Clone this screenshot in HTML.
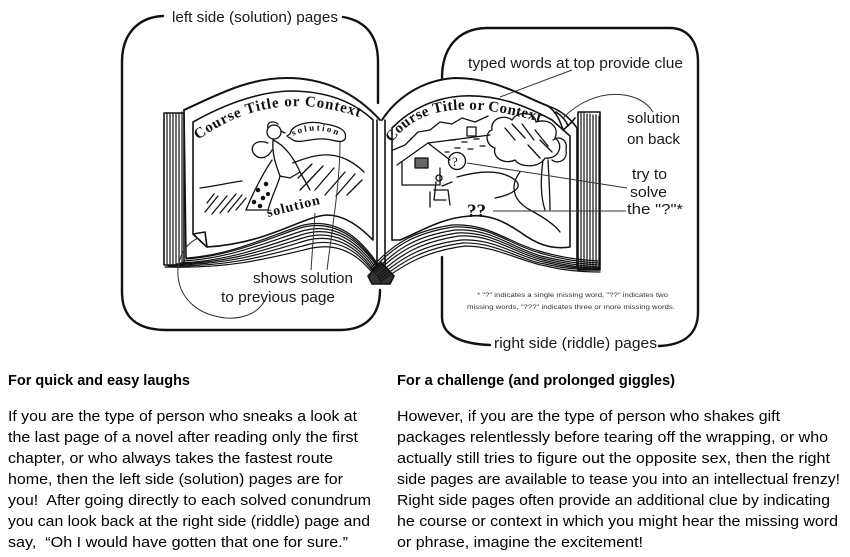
<!DOCTYPE html>
<html><head><meta charset="utf-8">
<style>
html,body{margin:0;padding:0;background:#fff;}
svg{display:block;}
.lbl{font-family:"Liberation Sans",Arial,sans-serif;font-size:15px;fill:#1a1a1a;}
.fn{font-family:"Liberation Sans",Arial,sans-serif;font-size:6.5px;fill:#333;}
.body{font-family:"Liberation Sans",sans-serif;font-size:15px;fill:#000;}
.hd{font-family:"Liberation Sans",sans-serif;font-size:15px;font-weight:bold;fill:#000;}
.hand{font-family:"Liberation Serif",serif;font-size:15px;fill:#111;}
</style></head><body>
<svg width="850" height="557" viewBox="0 0 850 557" xmlns="http://www.w3.org/2000/svg">
<defs>
<path id="lt" d="M198,140 Q272,86 362,118"/>
<path id="rt" d="M392,143 Q434,82 570,132"/>
<path id="sb" d="M293,136 Q318,124 343,138"/>
</defs>
<rect width="850" height="557" fill="#fff"/>

<!-- brackets -->
<g fill="none" stroke="#111" stroke-width="2.4" stroke-linecap="round">
<path d="M163,16 C140,17 122,32 122,62 L122,292 C122,318 138,330 166,330 L340,330 C365,330 380,316 380,290"/>
<path d="M343,17 C366,21 378,36 378,62 L378,103"/>
<path d="M442,78 C442,50 456,29 486,28 L670,28 C688,28 698,42 698,62 L698,312 C698,334 684,345 659,346"/>
<path d="M442,257 L442,318 C443,336 462,344 490,345"/>
</g>

<!-- book -->
<g fill="none" stroke="#111" stroke-width="1.6" stroke-linejoin="round" stroke-linecap="round">
<rect x="164" y="113" width="20" height="152" fill="#fff"/>
<path d="M167,114V264 M170,114V264 M173,114V264 M176,114V264 M179,113V264 M182,112V264" stroke-width="1.2"/>
<path d="M184,110 C215,96 247,78 287,78 C330,78 360,98 380,120" stroke-width="2"/>
<path d="M184,110 L186,258"/>
<path d="M193,122 C225,104 258,92 290,91 C330,91 356,104 373,120 L373,240 C360,227 345,215 327,215 C300,217 270,243 207,247 L193,234 Z"/>
<path d="M193,234 L207,247 L205,232 Z" fill="#fff"/>
<g stroke-width="1.2">
<path d="M186,258 C230,255 265,238 300,226 C335,216 360,238 377,263"/>
<path d="M186,259 C230,256 265,240 300,228 C335,218 360,240 377,265"/>
<path d="M184,261 C230,258 265,243 302,231 C337,221 362,244 378,268"/>
<path d="M180,263 C230,261 266,246 304,234 C339,224 363,248 378,271"/>
<path d="M176,264 C230,263 267,249 306,237 C341,228 364,252 378,274"/>
<path d="M172,265 C230,265 268,252 308,240 C343,232 365,256 378,277"/>
<path d="M168,266 C230,267 269,255 310,244 C345,236 366,260 379,280"/>
<path d="M165,267 C230,269 270,258 312,248 C347,241 367,264 380,283"/>
</g>
<path d="M377,120 V272 M385,120 V272"/>
<path d="M368,276 L372,284 L390,284 L394,276 L381,262 Z" fill="#333"/>
<path d="M382,120 C395,100 420,80 455,78 C495,78 520,95 548,106" stroke-width="2"/>
<path d="M548,106 C560,110 570,118 577,128 L577,266"/>
<path d="M548,106 C556,112 560,120 563,130 C568,126 572,122 575,118 M556,112 C562,116 566,120 568,126"/>
<path d="M392,128 C410,110 432,98 462,96 C500,94 530,108 552,120 L570,136 L570,247 C550,250 535,243 520,232 C505,222 490,214 470,216 C440,218 420,232 400,240 L392,240 Z"/>
<rect x="578" y="112" width="22" height="158" fill="#fff"/>
<path d="M581,113V269 M584,113V269 M587,114V269 M590,114V269 M593,115V269 M596,115V269 M599,116V269" stroke-width="1.2"/>
<g stroke-width="1.2">
<path d="M371,268 C394,243 414,231 452,225 C489,223 509,243 539,251 C559,257 579,260 598,261"/>
<path d="M372,270 C395,245 415,233 453,227 C490,225 510,245 540,253 C560,259 580,262 598,263"/>
<path d="M374,272 C397,248 417,236 455,230 C491,228 512,248 541,256 C561,261 581,264 598,265"/>
<path d="M375,274 C398,251 419,239 457,233 C492,231 514,251 542,258 C562,263 582,266 598,267"/>
<path d="M377,276 C400,254 421,242 459,236 C493,234 516,254 543,260 C563,265 583,268 599,268"/>
<path d="M378,278 C402,257 423,245 461,240 C494,238 518,257 544,262 C564,267 584,269 599,269"/>
<path d="M379,280 C404,260 425,248 463,243 C495,242 520,260 545,264 C565,269 585,270 600,270"/>
<path d="M380,282 C406,263 427,251 465,246 C496,246 522,262 546,266 C566,271 586,272 600,272"/>
</g>
</g>

<!-- left page interior -->
<g fill="none" stroke="#111" stroke-width="1.3" stroke-linecap="round">
<path d="M200,188 C215,186 228,183 242,181"/>
<path d="M293,163 C305,158 318,154 330,155 C343,156 355,163 364,172"/>
<path d="M205,212 L218,196 M212,214 L227,196 M220,213 L236,194 M228,212 L242,195 M236,210 L246,198 M207,203 L214,194"/>
<path d="M298,178 L312,164 M306,184 L323,166 M315,190 L334,168 M325,195 L345,172 M336,196 L355,174 M347,195 L362,180 M300,190 L310,180"/>
<circle cx="274" cy="132" r="7"/>
<path d="M268,128 C266,122 274,120 278,124 M281,131 L285,133"/>
<path d="M268,143 C255,138 248,148 255,155 C260,160 268,158 272,150"/>
<path d="M273,140 C285,145 295,160 300,172 L290,178 L280,176 C276,165 272,155 273,140 Z"/>
<path d="M300,172 L310,190"/>
<path d="M272,160 C262,175 252,195 246,210 L268,210 C272,195 278,185 280,176"/>
<circle cx="258" cy="190" r="1.6" fill="#111"/><circle cx="263" cy="198" r="1.6" fill="#111"/><circle cx="254" cy="202" r="1.6" fill="#111"/><circle cx="266" cy="184" r="1.6" fill="#111"/><circle cx="260" cy="206" r="1.6" fill="#111"/><circle cx="268" cy="194" r="1.4" fill="#111"/>
<path d="M290,134 C292,124 310,120 325,124 C338,126 348,130 345,139 C342,144 335,140 325,139 C310,138 300,144 293,140 L287,136 Z"/>
</g>
<text class="hand" style="font-size:9px;font-weight:bold"><textPath href="#sb" textLength="46">solution</textPath></text>
<text class="hand" style="font-size:15px;font-weight:bold"><textPath href="#lt" textLength="170">Course Title or Context</textPath></text>
<text class="hand" x="268" y="217" transform="rotate(-14 268 217)" style="font-size:14px;font-weight:bold" textLength="54">solution</text>

<!-- right page interior -->
<g fill="none" stroke="#111" stroke-width="1.3" stroke-linecap="round" stroke-linejoin="round">
<path d="M393,150 L405,145 L418,132 L430,130 L440,122 L452,124 L462,118 L475,122 L488,116"/>
<path d="M397,165 L428,143 L450,160"/>
<path d="M402,162 V185 L440,185 V168"/>
<rect x="415" y="158" width="13" height="10" fill="#666"/>
<path d="M428,143 L490,135"/>
<rect x="467" y="127" width="9" height="9"/>
<path d="M450,140 h5 M462,142 h5 M474,139 h5 M455,148 h5 M468,149 h5 M480,146 h5 M445,152 h4"/>
<circle cx="457" cy="161" r="8.5"/>
<text x="452" y="166" style="font-family:'Liberation Serif',serif;font-size:13px;stroke:none;fill:#111">?</text>
<circle cx="439" cy="178" r="3"/>
<path d="M436,182 L434,200 M434,190 L448,190 L450,205 M434,200 L446,200 M430,192 V207 M442,186 L452,182"/>
<path d="M457,177 C475,172 500,168 515,180 C525,188 510,195 495,198"/>
<path d="M520,172 C510,185 512,200 530,210 C545,218 555,225 560,232"/>
<path d="M492,130 C490,118 505,114 512,120 C518,110 535,112 536,122 C548,118 560,126 555,138 C565,145 558,160 545,158 C540,168 520,168 515,160 C505,165 492,158 495,148 C485,145 485,132 492,130 Z"/>
<path d="M505,128 L515,140 M512,124 L525,138 M522,124 L534,140 M535,130 L548,146 M528,145 L540,158 M540,140 L552,152"/>
<path d="M543,160 C541,175 540,195 545,210 M548,160 C549,180 550,195 550,210"/>
<path d="M553,140 C560,135 568,140 566,150 C568,160 558,165 552,160"/>
</g>
<text x="467" y="217" style="font-family:'Liberation Serif',serif;font-size:19px;font-weight:bold;fill:#111">??</text>
<text class="hand" style="font-size:15px;font-weight:bold"><textPath href="#rt" textLength="160">Course Title or Context</textPath></text>

<!-- connectors -->
<g fill="none" stroke="#333" stroke-width="1">
<path d="M572,70 L500,97"/>
<path d="M653,112 C640,90 595,85 563,118"/>
<path d="M467,163 L627,188"/>
<path d="M493,211 L626,211"/>
<path d="M311,270 L315,213"/>
<path d="M327,270 C333,222 340,182 340,142"/>
<path d="M265,300 C258,314 242,319 226,318 C196,315 176,296 178,268 C180,252 188,243 198,238"/>
</g>

<!-- labels -->
<text class="lbl" x="172" y="22" textLength="166" lengthAdjust="spacingAndGlyphs">left side (solution) pages</text>
<text class="lbl" x="468" y="68" textLength="215" lengthAdjust="spacingAndGlyphs">typed words at top provide clue</text>
<text class="lbl" x="627" y="123" textLength="53" lengthAdjust="spacingAndGlyphs">solution</text>
<text class="lbl" x="627" y="144" textLength="53" lengthAdjust="spacingAndGlyphs">on back</text>
<text class="lbl" x="632" y="179" textLength="35" lengthAdjust="spacingAndGlyphs">try to</text>
<text class="lbl" x="630" y="197" textLength="37" lengthAdjust="spacingAndGlyphs">solve</text>
<text class="lbl" x="627" y="214" textLength="56" lengthAdjust="spacingAndGlyphs">the "?"*</text>
<text class="lbl" x="253" y="283" textLength="100" lengthAdjust="spacingAndGlyphs">shows solution</text>
<text class="lbl" x="221" y="302" textLength="114" lengthAdjust="spacingAndGlyphs">to previous page</text>
<text class="fn" x="477" y="297" textLength="191" lengthAdjust="spacingAndGlyphs">* "?" indicates a single missing word, "??" indicates two</text>
<text class="fn" x="467" y="309" textLength="208" lengthAdjust="spacingAndGlyphs">missing words, "???" indicates three or more missing words.</text>
<text class="lbl" x="494" y="348" textLength="163" lengthAdjust="spacingAndGlyphs">right side (riddle) pages</text>

<!-- bottom text left -->
<text class="hd" x="8" y="385" textLength="182" lengthAdjust="spacingAndGlyphs">For quick and easy laughs</text>
<text class="body" x="8" y="421" textLength="349" lengthAdjust="spacingAndGlyphs">If you are the type of person who sneaks a look at</text>
<text class="body" x="8" y="442" textLength="350" lengthAdjust="spacingAndGlyphs">the last page of a novel after reading only the first</text>
<text class="body" x="8" y="463" textLength="325" lengthAdjust="spacingAndGlyphs">chapter, or who always takes the fastest route</text>
<text class="body" x="8" y="484" textLength="335" lengthAdjust="spacingAndGlyphs">home, then the left side (solution) pages are for</text>
<text class="body" x="8" y="505" textLength="363" lengthAdjust="spacingAndGlyphs" xml:space="preserve">you!  After going directly to each solved conundrum</text>
<text class="body" x="8" y="526" textLength="362" lengthAdjust="spacingAndGlyphs">you can look back at the right side (riddle) page and</text>
<text class="body" x="8" y="547" textLength="340" lengthAdjust="spacingAndGlyphs" xml:space="preserve">say,  “Oh I would have gotten that one for sure.”</text>

<!-- bottom text right -->
<text class="hd" x="397" y="385" textLength="278" lengthAdjust="spacingAndGlyphs">For a challenge (and prolonged giggles)</text>
<text class="body" x="397" y="421" textLength="383" lengthAdjust="spacingAndGlyphs">However, if you are the type of person who shakes gift</text>
<text class="body" x="397" y="442" textLength="431" lengthAdjust="spacingAndGlyphs">packages relentlessly before tearing off the wrapping, or who</text>
<text class="body" x="397" y="463" textLength="433" lengthAdjust="spacingAndGlyphs">actually still tries to figure out the opposite sex, then the right</text>
<text class="body" x="397" y="484" textLength="443" lengthAdjust="spacingAndGlyphs">side pages are available to tease you into an intellectual frenzy!</text>
<text class="body" x="397" y="505" textLength="433" lengthAdjust="spacingAndGlyphs">Right side pages often provide an additional clue by indicating</text>
<text class="body" x="397" y="526" textLength="441" lengthAdjust="spacingAndGlyphs">he course or context in which you might hear the missing word</text>
<text class="body" x="397" y="547" textLength="246" lengthAdjust="spacingAndGlyphs">or phrase, imagine the excitement!</text>
</svg>
</body></html>
